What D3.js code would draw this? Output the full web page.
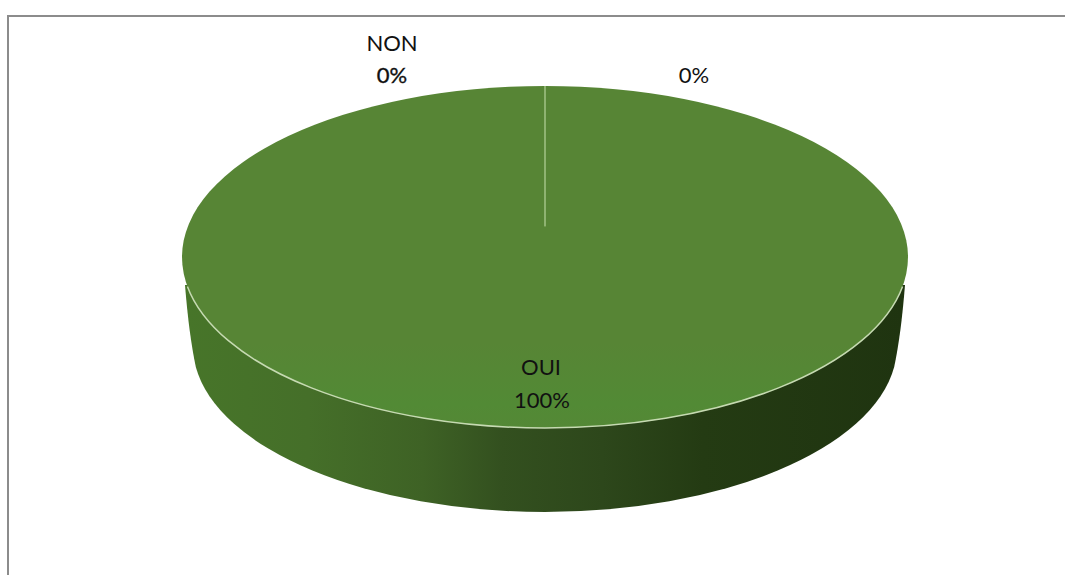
<!DOCTYPE html>
<html><head><meta charset="utf-8">
<script src="https://cdn.jsdelivr.net/npm/d3@7"></script>
<style>html,body{margin:0;background:#fff}svg{display:block}text{font-family:Lato,"Open Sans",sans-serif;fill:#111}</style>
</head><body><svg id="c" width="1065" height="575"></svg>
<script>
const categories = ["OUI", "", "NON"];
const values = [100, 0, 0];
const percentLabels = ["100%", "0%", "0%"];

const W = 1065, H = 575;
const cx = 545, cy = 257, rx = 363, ry = 171;
const svg = d3.select("#c");

// frame
svg.append("path").attr("d", `M8 ${H}V16H${W}`).attr("fill", "none").attr("stroke", "#8c8c8c").attr("stroke-width", 2);

// gradients
const defs = svg.append("defs");
const wallStops = [[0, "#477529"], [.17, "#456f29"], [.33, "#3e6225"], [.44, "#33501f"], [.58, "#2d471b"], [.72, "#243b13"], [1, "#1f3410"]];
const lg = defs.append("linearGradient").attr("id", "wall").attr("gradientUnits", "userSpaceOnUse")
  .attr("x1", 186).attr("x2", 904).attr("y1", 0).attr("y2", 0);
wallStops.forEach(s => lg.append("stop").attr("offset", s[0]).attr("stop-color", s[1]));
const tg = defs.append("linearGradient").attr("id", "top").attr("x1", 0).attr("x2", 0).attr("y1", 0).attr("y2", 1);
[[0, "#578535"], [.75, "#578535"], [.93, "#528a35"], [1, "#548836"]].forEach(s => tg.append("stop").attr("offset", s[0]).attr("stop-color", s[1]));

// side wall: lower part of a slightly smaller bottom ellipse, eased into the top face
const brx = 352, bry = 166, bcy = 346, sideY = 367;
const sideDx = brx * Math.sqrt(1 - ((sideY - bcy) / bry) ** 2);
const wallD = `M${cx - rx + 3} 285Q${cx - rx + 7} 335 ${cx - sideDx} ${sideY}` +
  `A${brx} ${bry} 0 0 0 ${cx + sideDx} ${sideY}Q${cx + rx - 7} 335 ${cx + rx - 3} 285Z`;
svg.append("path").attr("d", wallD).attr("fill", "url(#wall)");

// top face drawn from the pie layout
const pie = d3.pie().value(d => d).sort(null).startAngle(0).endAngle(2 * Math.PI);
const arcs = pie(values);
const g = svg.append("g").attr("transform", `translate(${cx},${cy}) scale(1,${ry / rx})`);
const full = d3.arc().innerRadius(0).outerRadius(rx);
const zeroSlice = d3.arc().innerRadius(rx * 0.18).outerRadius(rx);
g.selectAll("path.slice").data(arcs).join("path")
  .attr("class", "slice")
  .attr("d", d => d.value > 0 ? full(d) : zeroSlice(d))
  .attr("fill", d => d.value > 0 ? "url(#top)" : "none")
  .attr("stroke", d => d.value > 0 ? "none" : "#8fb371")
  .attr("stroke-width", 2);

// pale rim along the front edge
const rim = d3.arc().innerRadius(rx).outerRadius(rx);
g.append("path")
  .attr("d", rim({startAngle: Math.PI * 0.555, endAngle: Math.PI * 1.445}))
  .attr("fill", "none").attr("stroke", "#c6dab2").attr("stroke-width", 1.5)
  .attr("vector-effect", "non-scaling-stroke");

// labels
const fs = 22;
const put = (t, x, y, heavy) => svg.append("text").attr("x", x).attr("y", y)
  .attr("text-anchor", "middle").attr("font-size", fs)
  .attr("stroke", heavy ? "#111" : "none").attr("stroke-width", heavy ? .35 : 0).text(t);
put(categories[2], 392, 51);
put(percentLabels[2], 392, 83, true);
put(percentLabels[1], 694, 83);
put(categories[0], 541, 375);
put(percentLabels[0], 542, 408);
</script></body></html>
